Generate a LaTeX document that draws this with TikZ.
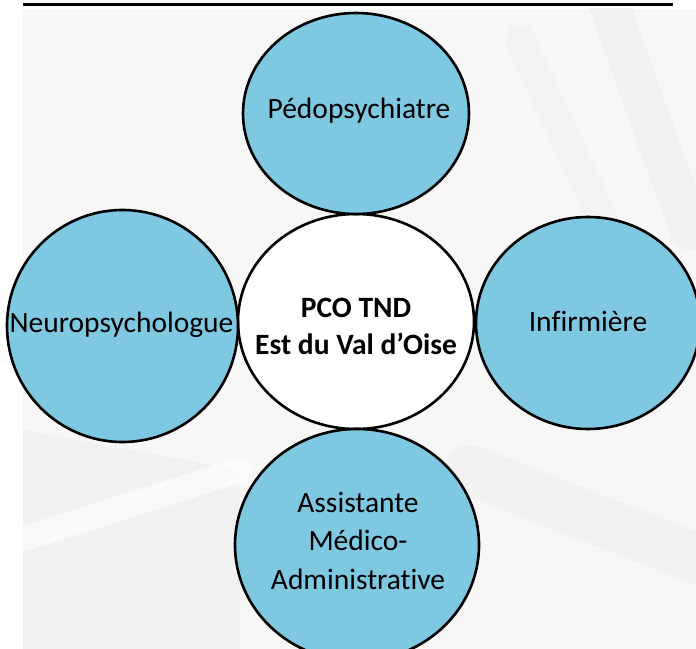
\documentclass[tikz,border=0pt]{standalone}
\usepackage{fontspec}
\setmainfont{Carlito}[RawFeature={-liga}]
\usetikzlibrary{shapes.geometric}
\definecolor{bubble}{HTML}{7EC8E1}
\definecolor{bgrey}{HTML}{F7F7F7}
\definecolor{streak}{HTML}{EDEDED}
\tikzset{
  bubblebox/.style={ellipse, draw=black, line width=2.6bp, fill=bubble, inner sep=0pt},
  hubbox/.style={ellipse, draw=black, line width=2.6bp, fill=white, inner sep=0pt},
  label/.style={font=\fontsize{29.5bp}{38bp}\selectfont, text=black, inner sep=0pt, anchor=base, align=center},
  boldlabel/.style={font=\fontsize{29.5bp}{37bp}\selectfont\bfseries, text=black, inner sep=0pt, anchor=base, align=center}
}
\begin{document}
\begin{tikzpicture}[x=1bp,y=-1bp]
\useasboundingbox (0,0) rectangle (696,649);
% faint background picture
\fill[bgrey] (23,9) rectangle (696,649);
\begin{scope}
\clip (23,9) rectangle (696,649);
\draw[streak, line width=40bp, line cap=round, opacity=0.6] (600,-20) -- (690,230);
\draw[streak, line width=30bp, line cap=round, opacity=0.4] (520,40) -- (640,300);
\draw[streak, line width=50bp, line cap=round, opacity=0.5] (470,470) -- (700,560);
\fill[streak, opacity=0.6] (23,430) -- (240,470) -- (240,649) -- (23,649) -- cycle;
\draw[white, line width=25bp, line cap=round, opacity=0.6] (20,540) -- (240,470);
\end{scope}
% top rule
\coordinate (ruleL) at (23,4.5);
\coordinate (ruleR) at (673,4.5);
\draw[line width=2.4bp] (ruleL) -- (ruleR);
% circles
\node[hubbox, minimum width=236bp, minimum height=215bp] (hub) at (356,321.5) {};
\node[bubblebox, minimum width=226bp, minimum height=201bp] (top) at (356,113.5) {};
\node[bubblebox, minimum width=231bp, minimum height=232bp] (left) at (122.5,326) {};
\node[bubblebox, minimum width=224bp, minimum height=212bp] (right) at (588,323) {};
\node[bubblebox, minimum width=244bp, minimum height=232bp] (bottom) at (357,545) {};
% texts
\node[label] (tTop) at (359,119) {Pédopsychiatre};
\node[label] (tLeft) at (121.5,332) {Neuropsychologue};
\node[label] (tRight) at (588,331) {Infirmière};
\node[boldlabel] (tHub1) at (356,317) {PCO TND};
\node[boldlabel] (tHub2) at (356,354) {Est du Val d’Oise};
\node[label] (tBot1) at (358,512) {Assistante};
\node[label] (tBot2) at (358,550) {Médico-};
\node[label] (tBot3) at (358,589) {Administrative};
\end{tikzpicture}
\end{document}
